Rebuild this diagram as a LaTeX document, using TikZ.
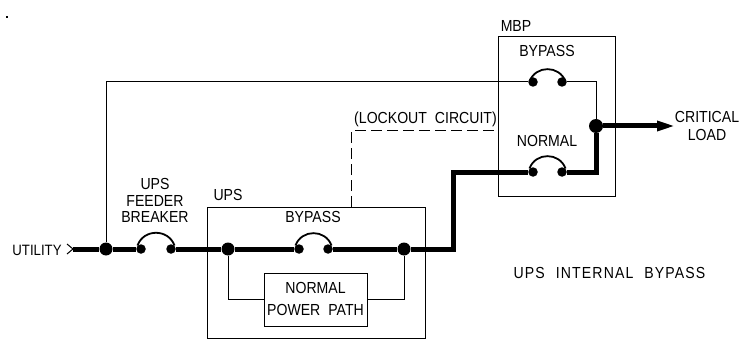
\documentclass[tikz,border=0pt]{standalone}
\usepackage{fontspec}
\setmainfont{Liberation Sans}[FakeStretch=0.88]
\newfontfamily\widefont{Liberation Sans}[FakeStretch=0.88,LetterSpace=7,WordSpace=2.2]
\usetikzlibrary{arrows.meta}
\tikzset{
    box/.style={draw,line width=1pt,inner sep=0pt},
    thinwire/.style={line width=1pt},
    heavywire/.style={line width=5pt},
    junction/.style={circle,fill=black,inner sep=0pt,minimum size=13pt},
    contact/.style={circle,fill=black,inner sep=0pt,minimum size=9.5pt},
    breakerarc/.style={line width=1.8pt,looseness=1.25},
    label/.style={inner sep=0pt,font=\fontsize{16}{16.5}\selectfont,align=center}
}
\begin{document}
\begin{tikzpicture}[x=1pt,y=-1pt]
    \useasboundingbox (0,0) rectangle (751,339);

    \fill (6,16.5) rectangle (8,18);

    \node[box,minimum width=218pt,minimum height=131pt] (upsbox) at (316,272.5) {};
    \node[box,minimum width=117pt,minimum height=159pt] (mbpbox) at (556.5,116.5) {};
    \node[box,minimum width=103pt,minimum height=53pt] (pathbox) at (315.5,299.5) {};

    \node[label,font=\fontsize{15}{16.5}\selectfont] (utility) at (37,250) {UTILITY};
    \node[label] (feeder) at (155,200.5) {UPS\\FEEDER\\BREAKER};
    \node[label] (upstext) at (228,195) {UPS};
    \node[label] (upsbypass) at (313,217) {BYPASS};
    \node[label] (normalpath) at (315.5,299) {NORMAL\\[5.5pt]POWER\hspace{8pt}PATH};
    \node[label] (mbptext) at (516,26) {MBP};
    \node[label] (mbpbypass) at (547,51) {BYPASS};
    \node[label] (mbpnormal) at (547,141) {NORMAL};
    \node[label] (lockout) at (425.5,119) {(LOCKOUT\hspace{8pt}CIRCUIT)};
    \node[label] (critical) at (707,126) {CRITICAL\\[1.5pt]LOAD};
    \node[label,font=\fontsize{16}{16.5}\widefont] (internal) at (609.5,273) {UPS INTERNAL BYPASS};

    \coordinate (utilin) at (73,249);
    \coordinate (utilup) at (67,244);
    \coordinate (utildown) at (67,254);
    \coordinate (bypasscorner) at (106,82);
    \coordinate (outcorner) at (596,82);
    \coordinate (normalcorner) at (596,172);
    \coordinate (risebottom) at (453,249);
    \coordinate (risetop) at (453,172);
    \coordinate (lockbottom) at (351,207);
    \coordinate (locktop) at (351,131);
    \coordinate (lockend) at (498,131);
    \coordinate (pathleft) at (228,299);
    \coordinate (pathright) at (404,299);
    \coordinate (loadend) at (677,126);

    \node[junction] (utilnode) at (106,249) {};
    \node[contact] (feedera) at (141,249) {};
    \node[contact] (feederb) at (171,249) {};
    \node[junction] (upsleft) at (228,249) {};
    \node[contact] (upsa) at (299,249) {};
    \node[contact] (upsb) at (328,249) {};
    \node[junction] (upsright) at (404,249) {};
    \node[contact] (normala) at (533,172) {};
    \node[contact] (normalb) at (562,172) {};
    \node[contact] (bypassa) at (533,82) {};
    \node[contact] (bypassb) at (562,82) {};
    \node[junction,minimum height=14pt] (loadnode) at (596,126) {};

    \draw[thinwire] (utilup) -- (utilin) -- (utildown);
    \draw[thinwire] (utilnode) -- (bypasscorner) -- (bypassa);
    \draw[thinwire] (bypassb) -- (outcorner) -- (loadnode);
    \draw[thinwire] (upsleft) -- (pathleft) -- (pathbox.west |- pathleft);
    \draw[thinwire] (pathbox.east |- pathright) -- (pathright) -- (upsright);
    \draw[thinwire,dash pattern=on 11pt off 5pt] (lockbottom) -- (locktop) -- (lockend);

    \draw[heavywire] (utilin) -- (utilnode) -- (feedera);
    \draw[heavywire] (feederb) -- (upsleft) -- (upsa);
    \draw[heavywire,line join=miter] (upsb) -- (upsright) -- (risebottom) -- (risetop) -- (normala);
    \draw[heavywire,line join=miter] (normalb) -- (normalcorner) -- (loadnode);
    \draw[heavywire,-{Triangle[length=20pt,width=9pt]}] (loadnode) -- (loadend);

    \draw[breakerarc] (feedera.north west) to[out=70,in=110] (feederb.north east);
    \draw[breakerarc] (upsa.north west) to[out=70,in=110] (upsb.north east);
    \draw[breakerarc] (normala.north west) to[out=70,in=110] (normalb.north east);
    \draw[breakerarc] ([yshift=-3pt]bypassa.north west) to[out=70,in=110] ([yshift=-3pt]bypassb.north east);
\end{tikzpicture}
\end{document}
